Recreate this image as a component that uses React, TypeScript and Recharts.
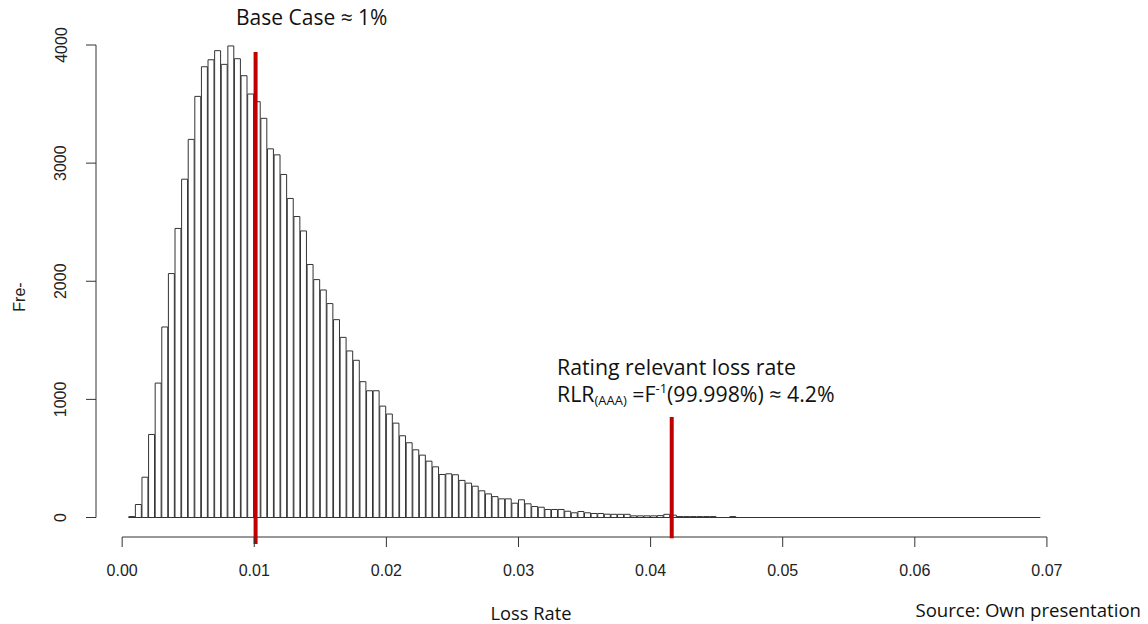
import { ComposedChart, Bar, XAxis, YAxis, ReferenceLine } from "recharts";

// histogram of simulated loss rates, bins of 0.0005 starting at 0.0005
const binStart = 0.0005;
const binWidth = 0.0005;
const counts = [
  8, 110, 341, 703, 1138, 1613, 2065, 2447, 2864, 3201,
  3565, 3816, 3875, 3952, 3836, 3992, 3884, 3740, 3585, 3520,
  3379, 3121, 3070, 2904, 2701, 2548, 2426, 2142, 2014, 1926,
  1811, 1675, 1525, 1410, 1331, 1150, 1073, 1073, 943, 876,
  799, 692, 633, 573, 528, 477, 429, 364, 370, 362,
  314, 291, 265, 226, 200, 177, 158, 158, 121, 150,
  116, 93, 87, 68, 68, 68, 53, 40, 51, 40,
  34, 34, 28, 27, 27, 27, 14, 14, 14, 14,
  16, 27, 20, 8, 8, 8, 8, 8, 8, 0,
  0, 8,
];
const histEnd = 0.0695;

const xTicks = [0, 0.01, 0.02, 0.03, 0.04, 0.05, 0.06, 0.07];
const yTicks = [0, 1000, 2000, 3000, 4000];

// marker lines (x value, vertical extent in count units)
const baseCase = 0.0101;
const baseCaseSpan = [-224, 3941];
const rlrAAA = 0.0416;
const rlrSpan = [-176, 851];

const data = counts.map((count, i) => ({ mid: binStart + binWidth * (i + 0.5), count }));

// layout
const W = 1148;
const H = 624;
const PLOT_LEFT = 96;
const PLOT_RIGHT = 1060;
const PLOT_TOP = 45;
const PLOT_BOTTOM = 537;
const X_DOMAIN: [number, number] = [-0.00198, 0.07099];
const Y_DOMAIN: [number, number] = [-165, 4000];
const barPx = ((PLOT_RIGHT - PLOT_LEFT) * binWidth) / (X_DOMAIN[1] - X_DOMAIN[0]);

const AXIS_FONT = "'Liberation Sans', Arial, sans-serif";
const NOTE_FONT = "'Open Sans', 'Noto Sans', sans-serif";
const INK = "#333";
const RED = "#c00000";

function YTick(props: any) {
  const { x, y, payload } = props;
  const cx = x - 25;
  return (
    <text
      x={cx}
      y={y}
      transform={`rotate(-90, ${cx}, ${y})`}
      textAnchor="middle"
      dominantBaseline="central"
      fontSize={16}
      fontFamily={AXIS_FONT}
      fill="#222"
    >
      {payload.value}
    </text>
  );
}

export default function App() {
  return (
    <div style={{ position: "absolute", left: 0, top: 0, width: W, height: H, background: "#fff" }}>
      <ComposedChart
        width={W}
        height={H}
        data={data}
        margin={{ top: PLOT_TOP, right: W - PLOT_RIGHT, bottom: H - PLOT_BOTTOM - 40, left: PLOT_LEFT - 60 }}
      >
        <XAxis
          type="number"
          dataKey="mid"
          domain={X_DOMAIN}
          allowDataOverflow
          ticks={xTicks}
          height={40}
          axisLine={false}
          tickLine={{ stroke: INK }}
          tickSize={10}
          tickMargin={18}
          tickFormatter={(v: number) => v.toFixed(2)}
          tick={{ fontSize: 16, fontFamily: AXIS_FONT, fill: "#222" }}
          interval={0}
        />
        <YAxis
          type="number"
          domain={Y_DOMAIN}
          allowDataOverflow
          ticks={yTicks}
          width={60}
          axisLine={false}
          tickLine={{ stroke: INK }}
          tickSize={10}
          tickMargin={0}
          tick={<YTick />}
          interval={0}
        />
        <Bar
          dataKey="count"
          fill="#fff"
          stroke={INK}
          strokeWidth={1}
          barSize={barPx}
          isAnimationActive={false}
        />
        <ReferenceLine
          segment={[{ x: binStart, y: 0 }, { x: histEnd, y: 0 }]}
          stroke={INK}
          strokeWidth={1}
          ifOverflow="visible"
        />
        <ReferenceLine
          segment={[{ x: X_DOMAIN[0], y: yTicks[0] }, { x: X_DOMAIN[0], y: yTicks[yTicks.length - 1] }]}
          stroke={INK}
          strokeWidth={1}
          ifOverflow="visible"
        />
        <ReferenceLine
          segment={[{ x: xTicks[0], y: Y_DOMAIN[0] }, { x: xTicks[xTicks.length - 1], y: Y_DOMAIN[0] }]}
          stroke={INK}
          strokeWidth={1}
          ifOverflow="visible"
        />
        <ReferenceLine
          segment={[{ x: baseCase, y: baseCaseSpan[0] }, { x: baseCase, y: baseCaseSpan[1] }]}
          stroke={RED}
          strokeWidth={4}
          ifOverflow="visible"
        />
        <ReferenceLine
          segment={[{ x: rlrAAA, y: rlrSpan[0] }, { x: rlrAAA, y: rlrSpan[1] }]}
          stroke={RED}
          strokeWidth={4}
          ifOverflow="visible"
        />
      </ComposedChart>
      <svg
        width={W}
        height={H}
        style={{ position: "absolute", left: 0, top: 0, pointerEvents: "none" }}
      >
        <text x={236} y={25} fontSize={21} fontFamily={NOTE_FONT} fill="#111">
          Base Case ≈ 1%
        </text>
        <text x={557} y={375} fontSize={21.3} fontFamily={NOTE_FONT} fill="#111">
          Rating relevant loss rate
        </text>
        <text x={557} y={402} fontSize={21.3} fontFamily={NOTE_FONT} fill="#111">
          RLR
          <tspan fontSize={13} dy={3}>(AAA)</tspan>
          <tspan dy={-3}> =F</tspan>
          <tspan fontSize={13} dy={-9}>-1</tspan>
          <tspan dy={9}>(99.998%) ≈ 4.2%</tspan>
        </text>
        <text x={531} y={620} textAnchor="middle" fontSize={18.3} fontFamily={NOTE_FONT} fill="#111">
          Loss Rate
        </text>
        <text x={1141} y={617} textAnchor="end" fontSize={18.6} fontFamily={NOTE_FONT} fill="#111">
          Source: Own presentation
        </text>
        <text
          x={19}
          y={297}
          transform="rotate(-90, 19, 297)"
          textAnchor="middle"
          dominantBaseline="central"
          fontSize={16}
          fontFamily={AXIS_FONT}
          fill="#222"
        >
          Fre-
        </text>
      </svg>
    </div>
  );
}
